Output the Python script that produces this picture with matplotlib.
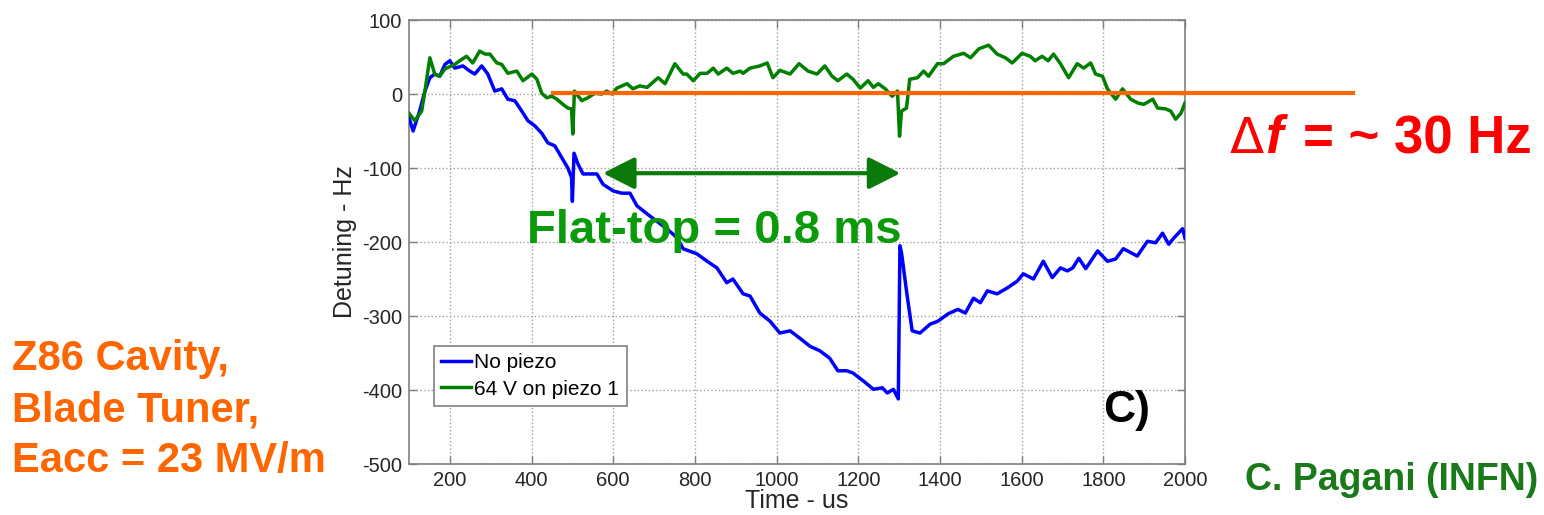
import matplotlib
matplotlib.use("Agg")
import matplotlib.pyplot as plt
from matplotlib.patches import FancyArrowPatch

# No piezo (blue)
no_piezo_t = [100, 110, 126, 139, 151, 163, 175, 188, 200, 212,
              232, 249, 261, 278, 293, 310, 327, 342, 359, 376,
              391, 408, 425, 440, 457, 474, 489, 498, 500, 504,
              514, 526, 548, 560, 575, 600, 621, 641, 658, 683,
              707, 731, 756, 771, 805, 830, 854, 878, 893, 918,
              935, 959, 984, 1008, 1033, 1057, 1082, 1106, 1130, 1150,
              1172, 1187, 1213, 1237, 1259, 1271, 1286, 1298, 1302, 1306,
              1319, 1332, 1351, 1376, 1395, 1420, 1444, 1462, 1482, 1499,
              1516, 1540, 1565, 1589, 1604, 1629, 1653, 1675, 1695, 1712,
              1725, 1740, 1757, 1786, 1810, 1830, 1849, 1883, 1908, 1928,
              1945, 1960, 1972, 1994, 2000]
no_piezo_hz = [-32, -50, -23, 4, 22, 27, 24, 40, 45, 35,
               38, 31, 27, 38, 27, 4, 7, -7, -9, -23,
               -36, -43, -53, -66, -70, -86, -100, -113, -145, -80,
               -95, -108, -108, -108, -122, -131, -134, -134, -151, -162,
               -172, -182, -194, -209, -216, -226, -235, -255, -250, -270,
               -273, -296, -307, -323, -320, -330, -341, -347, -357, -374,
               -374, -377, -388, -399, -397, -404, -399, -412, -205, -215,
               -270, -320, -323, -311, -307, -297, -291, -296, -276, -282,
               -266, -270, -262, -253, -243, -250, -226, -248, -235, -239,
               -235, -222, -236, -212, -226, -223, -209, -219, -199, -201,
               -188, -203, -195, -182, -195]

# 64 V on piezo 1 (green)
piezo_t = [100, 114, 131, 139, 151, 163, 175, 188, 212, 224,
           241, 256, 273, 286, 298, 315, 327, 342, 364, 379,
           401, 413, 425, 437, 450, 462, 477, 489, 498, 501,
           505, 523, 538, 555, 572, 584, 597, 609, 634, 648,
           665, 683, 710, 727, 751, 771, 780, 796, 813, 830,
           845, 857, 878, 893, 911, 918, 935, 959, 977, 991,
           1008, 1033, 1055, 1077, 1099, 1118, 1136, 1150, 1172, 1187,
           1205, 1224, 1237, 1249, 1266, 1283, 1296, 1301, 1306, 1318,
           1326, 1345, 1360, 1372, 1394, 1409, 1433, 1458, 1475, 1495,
           1519, 1540, 1560, 1577, 1601, 1621, 1633, 1650, 1665, 1678,
           1695, 1715, 1736, 1752, 1769, 1781, 1798, 1810, 1830, 1847,
           1867, 1884, 1899, 1921, 1933, 1952, 1965, 1977, 1990, 2000]
piezo_hz = [-26, -36, -23, 4, 49, 27, 24, 34, 40, 45,
            51, 42, 58, 54, 54, 42, 40, 28, 31, 18,
            27, 20, 1, -5, -3, -7, -14, -19, -20, -54,
            4, -9, -5, 1, 0, 4, 0, 8, 14, 7,
            11, 9, 22, 14, 41, 27, 27, 18, 28, 28,
            35, 27, 35, 28, 31, 28, 35, 38, 42, 22,
            32, 27, 41, 31, 27, 38, 24, 18, 27, 20,
            8, 18, 9, 14, 7, -3, 4, -57, -23, -19,
            20, 22, 31, 24, 41, 41, 51, 55, 49, 61,
            66, 54, 49, 42, 55, 51, 45, 51, 45, 54,
            41, 22, 41, 35, 42, 27, 24, 7, -7, 7,
            -7, -12, -14, -7, -19, -20, -23, -34, -26, -12]

x_ticks = list(range(200, 2001, 200))
y_ticks = list(range(-500, 101, 100))

# annotation geometry (data units)
ref_line_x = (452, 2411)
ref_line_y = 1
flat_top_x = (568, 1310)
flat_top_y = -107

plt.rcParams['font.family'] = ['Liberation Sans', 'DejaVu Sans']
plt.rcParams['axes.unicode_minus'] = False

fig = plt.figure(figsize=(15.44, 5.15), dpi=100)
ax = fig.add_axes([0.2649, 0.0990, 0.5026, 0.8621])

ax.plot(no_piezo_t, no_piezo_hz, color='#0000ff', lw=2.5, label='No piezo', zorder=3)
ax.plot(piezo_t, piezo_hz, color='#007f00', lw=2.5, label='64 V on piezo 1', zorder=3)

ax.set_xlim(100, 2000)
ax.set_ylim(-500, 100)
ax.set_xticks(x_ticks)
ax.set_yticks(y_ticks)
ax.grid(True, linestyle=':', color='#a0a0a0', lw=1.0)
ax.tick_params(direction='in', top=True, right=True, length=6, width=1,
               color='#808080', labelsize=14.5, labelcolor='#262626', pad=5)
for s in ax.spines.values():
    s.set_color('#808080')
    s.set_linewidth(1.2)

ax.set_xlabel('Time - us', fontsize=18, color='#262626')
ax.set_ylabel('Detuning - Hz', fontsize=18, color='#262626')
ax.xaxis.set_label_coords(0.5, -0.056)
ax.yaxis.set_label_coords(-0.067, 0.5)

leg = ax.legend(loc='lower left', bbox_to_anchor=(0.032, 0.131), fontsize=15,
                frameon=True, fancybox=False, framealpha=1, edgecolor='#808080',
                handlelength=1.45, handletextpad=0.15, borderpad=0.35,
                labelspacing=0.35, borderaxespad=0)
leg.get_frame().set_linewidth(1.2)

# orange reference line at ~0 Hz, running past the axes
ax.plot(ref_line_x, [ref_line_y, ref_line_y], color='#ff6600', lw=3,
        clip_on=False, scalex=False, scaley=False, zorder=4)

# flat-top double arrow
arrow = FancyArrowPatch((flat_top_x[0], flat_top_y), (flat_top_x[1], flat_top_y),
                        arrowstyle='<|-|>,head_length=0.97,head_width=0.49',
                        mutation_scale=20, color='#0a7a0a', lw=3, zorder=4)
ax.add_patch(arrow)

fig.text(527 / 1544, 1 - 243 / 515, 'Flat-top = 0.8 ms', fontsize=34,
         fontweight='bold', color='#0a9a0a', ha='left', va='baseline')

fig.text(1230 / 1544, 1 - 153 / 515, '\u0394', fontsize=36, color='#ff0000',
         family='DejaVu Sans', ha='left', va='baseline')
fig.text(1265 / 1544, 1 - 153 / 515, 'f', fontsize=38, color='#ff0000',
         fontweight='bold', style='italic', ha='left', va='baseline')
fig.text(1303 / 1544, 1 - 153 / 515, '= ~ 30 Hz', fontsize=38, color='#ff0000',
         fontweight='bold', ha='left', va='baseline')

fig.text(1103 / 1544, 1 - 422 / 515, 'C)', fontsize=32, fontweight='bold',
         color='black', ha='left', va='baseline')

fig.text(12 / 1544, 1 - 370 / 515, 'Z86 Cavity,', fontsize=30, fontweight='bold',
         color='#ff6600', ha='left', va='baseline')
fig.text(12 / 1544, 1 - 421 / 515, 'Blade Tuner,', fontsize=30, fontweight='bold',
         color='#ff6600', ha='left', va='baseline')
fig.text(12 / 1544, 1 - 472 / 515, 'Eacc = 23 MV/m', fontsize=30, fontweight='bold',
         color='#ff6600', ha='left', va='baseline')

fig.text(1538 / 1544, 1 - 490 / 515, 'C. Pagani (INFN)', fontsize=27,
         fontweight='bold', color='#1a7a1a', ha='right', va='baseline')

fig.savefig('out.png', dpi=100, facecolor='white')
